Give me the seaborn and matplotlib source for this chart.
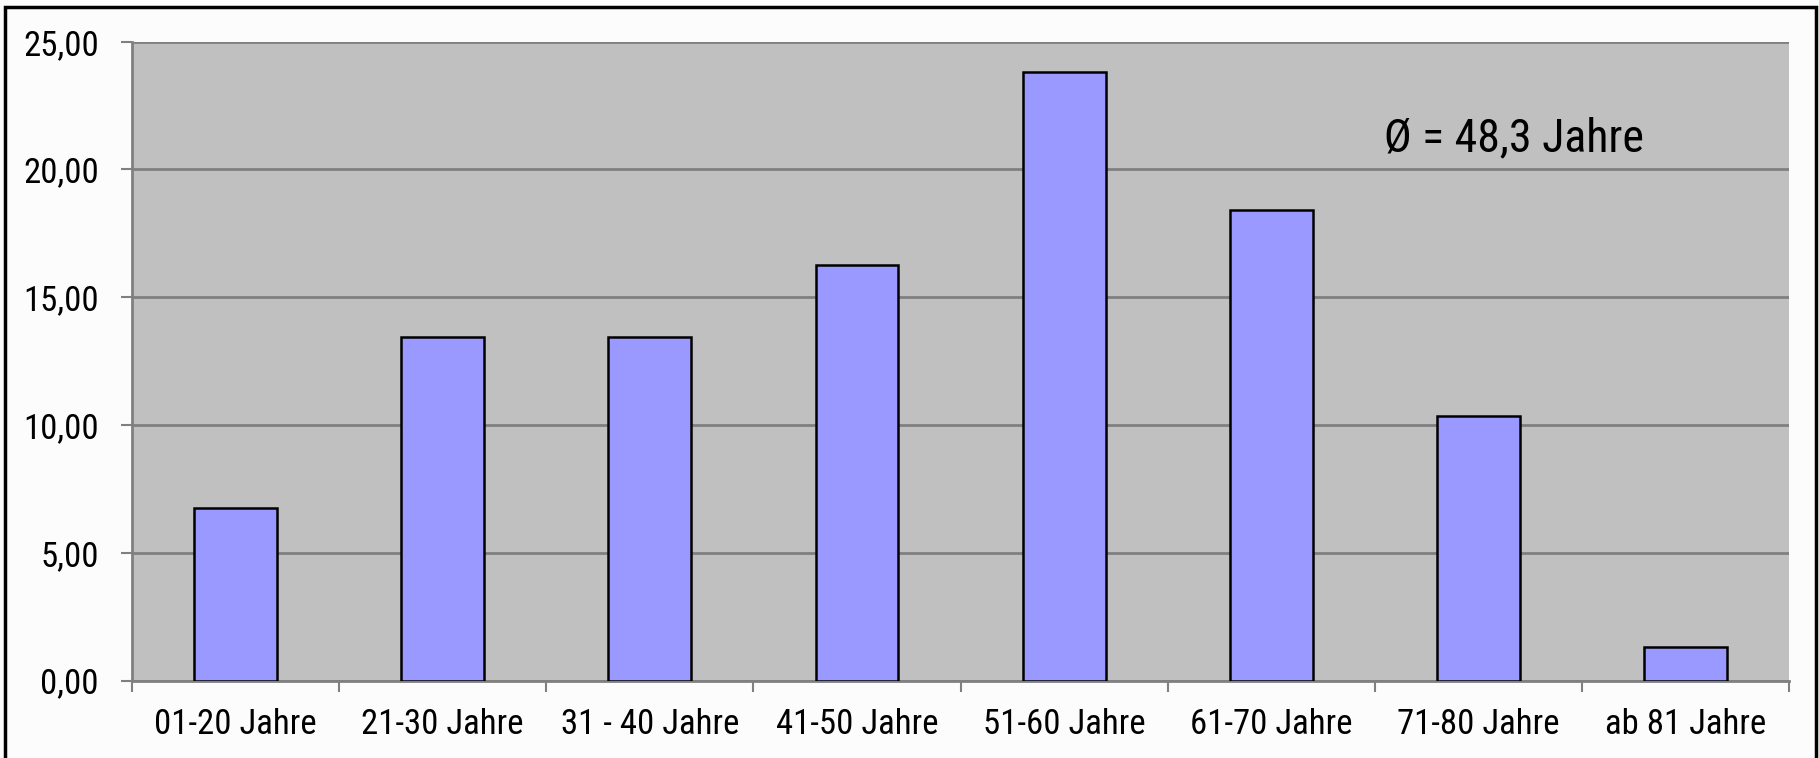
import matplotlib
matplotlib.use("Agg")
import matplotlib.pyplot as plt
import matplotlib.ticker as mticker
from matplotlib.patches import Rectangle
import seaborn as sns
import pandas as pd

categories = ["01-20 Jahre", "21-30 Jahre", "31 - 40 Jahre", "41-50 Jahre",
              "51-60 Jahre", "61-70 Jahre", "71-80 Jahre", "ab 81 Jahre"]
values = [6.75, 13.45, 13.45, 16.25, 23.80, 18.40, 10.35, 1.33]
y_ticks = [0, 5, 10, 15, 20, 25]
annotation = "Ø = 48,3 Jahre"

sns.set_theme(style="white")
fam = ["Roboto Condensed", "DejaVu Sans"]
plt.rcParams["font.family"] = fam

df = pd.DataFrame({"cat": categories, "val": values})

fig = plt.figure(figsize=(18.19, 7.58), dpi=100, facecolor="#FCFCFC")
ax = fig.add_axes([0.0726, 0.1022, 0.9109, 0.8428])
ax.set_facecolor("#C0C0C0")

sns.barplot(data=df, x="cat", y="val", color="#9999FF", saturation=1,
            width=0.4, edgecolor="black", linewidth=1.8, ax=ax, zorder=3)

ax.set_ylim(0, 25)
ax.set_xlim(-0.5, len(categories) - 0.5)
ax.set_yticks(y_ticks)
ax.yaxis.set_major_formatter(mticker.FuncFormatter(lambda v, p: f"{v:.2f}".replace(".", ",")))
ax.grid(axis="y", color="#808080", linewidth=2, zorder=1)
ax.set_axisbelow(True)
ax.set_xlabel("")
ax.set_ylabel("")

for s in ["top", "right"]:
    ax.spines[s].set_visible(False)
for s in ["left", "bottom"]:
    ax.spines[s].set_color("#808080")
    ax.spines[s].set_linewidth(2)

ax.tick_params(axis="y", which="major", length=8, width=1.5, color="#808080",
               pad=16, labelsize=25, labelcolor="black", left=True)
ax.set_xticks([i - 0.5 for i in range(len(categories) + 1)], minor=True)
ax.tick_params(axis="x", which="minor", length=8, width=1.5, color="#808080", bottom=True)
ax.tick_params(axis="x", which="major", length=0, pad=20, labelsize=25, labelcolor="black")

ax.text(6.17, 21.2, annotation, fontsize=33, ha="center", va="center", color="black",
        family=fam, zorder=4)

fig.patches.append(Rectangle((0.003, -0.1), 0.9955, 1.091, transform=fig.transFigure,
                             fill=False, edgecolor="black", linewidth=2.5))

fig.savefig("out.png", dpi=100, facecolor=fig.get_facecolor())
